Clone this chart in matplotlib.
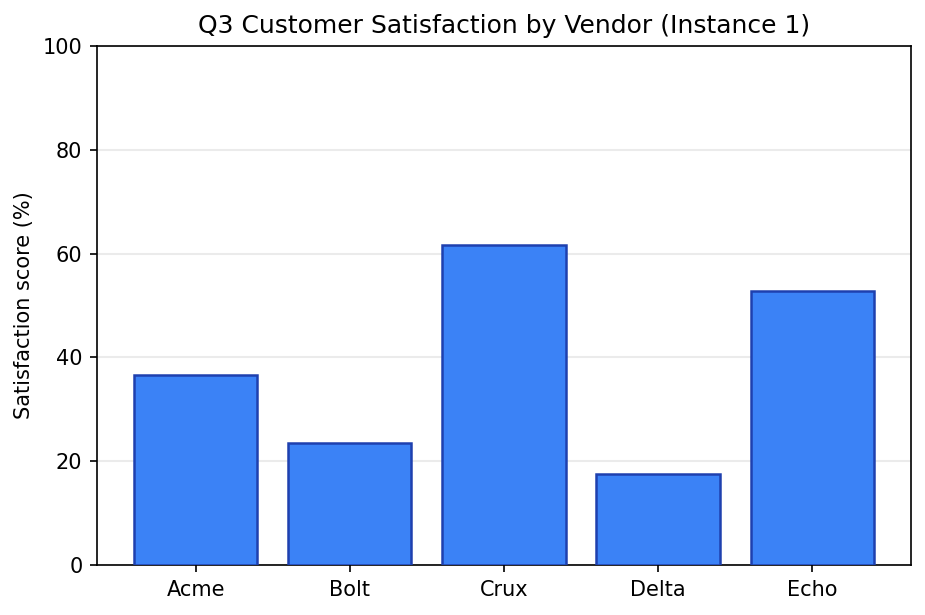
import matplotlib
matplotlib.use('Agg')
import matplotlib.pyplot as plt

vendors = ["Acme", "Bolt", "Crux", "Delta", "Echo"]
scores = [36.6, 23.5, 61.6, 17.5, 52.7]

fig, ax = plt.subplots(figsize=(926/150, 615/150), dpi=150)
ax.bar(vendors, scores, width=0.8, color="#3b82f6", edgecolor="#1e40af", linewidth=1.2, zorder=3)
ax.set_ylim(0, 100)
ax.set_ylabel("Satisfaction score (%)")
ax.set_title("Q3 Customer Satisfaction by Vendor (Instance 1)")
ax.yaxis.grid(True, color="#ebebeb", linewidth=1, zorder=0)
ax.set_axisbelow(True)

fig.subplots_adjust(left=97/926, right=911/926, top=1-46/615, bottom=1-565/615)
fig.savefig("out.png", dpi=150)
